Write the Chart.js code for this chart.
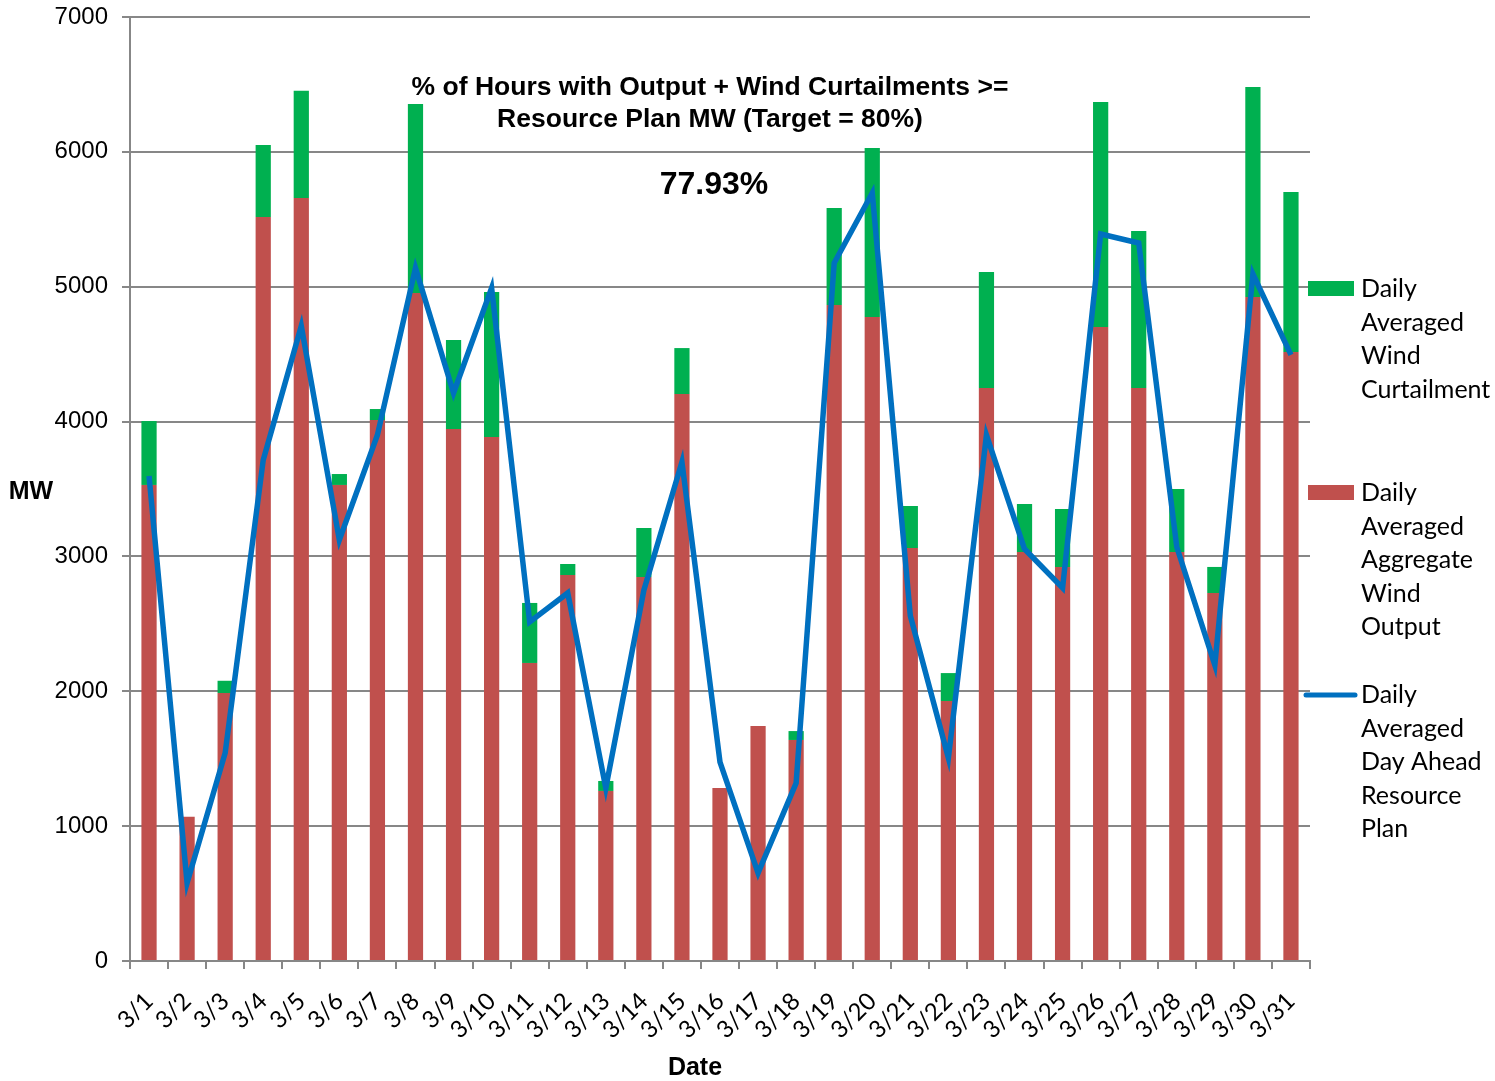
<!DOCTYPE html>
<html>
<head>
<meta charset="utf-8">
<script src="https://cdn.jsdelivr.net/npm/chart.js@4.4.1/dist/chart.umd.min.js"></script>
<style>
  html, body { margin: 0; padding: 0; background: #fff; }
  #wrap { width: 1495px; height: 1081px; position: relative; }
</style>
</head>
<body>
<div id="wrap"><canvas id="myChart" width="1495" height="1081"></canvas></div>
<script>
const dates = ['3/1','3/2','3/3','3/4','3/5','3/6','3/7','3/8','3/9','3/10',
  '3/11','3/12','3/13','3/14','3/15','3/16','3/17','3/18','3/19','3/20',
  '3/21','3/22','3/23','3/24','3/25','3/26','3/27','3/28','3/29','3/30','3/31'];

// daily averaged aggregate wind output (red)
const windOutput = [3530, 1070, 1987, 5517, 5658, 3530, 4011, 4953, 3945, 3885,
  2210, 2862, 1261, 2847, 4204, 1283, 1742, 1639, 4864, 4775,
  3062, 1928, 4249, 3033, 2922, 4701, 4249, 3033, 2729, 4924, 4516];

// daily averaged wind curtailment (green, stacked on top)
const curtailment = [474, 0, 91, 534, 795, 81, 82, 1402, 660, 1075,
  445, 82, 74, 364, 341, 0, 0, 66, 720, 1253,
  312, 207, 860, 356, 430, 1669, 1164, 467, 193, 1557, 1186];

// daily averaged day ahead resource plan (blue line)
const resourcePlan = [3597, 578, 1542, 3715, 4709, 3122, 3900, 5139, 4212, 4990,
  2514, 2729, 1283, 2750, 3700, 1475, 652, 1320, 5176, 5695,
  2560, 1505, 3900, 3055, 2766, 5391, 5324, 3070, 2195, 5094, 4494];

const titleLines = ['% of Hours with Output + Wind Curtailments >=', 'Resource Plan MW (Target = 80%)'];
const pctText = '77.93%';

const GREEN = '#00B050';
const RED = '#C0504D';
const BLUE = '#0070C0';
const GRID = '#878787';

const legendItems = [
  { color: GREEN, kind: 'box', lines: ['Daily', 'Averaged', 'Wind', 'Curtailment'], y: 289 },
  { color: RED, kind: 'box', lines: ['Daily', 'Averaged', 'Aggregate', 'Wind', 'Output'], y: 493 },
  { color: BLUE, kind: 'line', lines: ['Daily', 'Averaged', 'Day Ahead', 'Resource', 'Plan'], y: 695 }
];

// texts drawn on the canvas (title, big percent, axis titles, legend)
const textPlugin = {
  id: 'texts',
  afterDraw(chart) {
    const c = chart.ctx;
    c.save();
    c.fillStyle = '#000';
    c.textBaseline = 'middle';
    c.textAlign = 'center';
    c.font = 'bold 26.5px "Liberation Sans", Arial, sans-serif';
    c.fillText(titleLines[0], 710, 88);
    c.fillText(titleLines[1], 710, 120);
    c.font = 'bold 32px "Liberation Sans", Arial, sans-serif';
    c.fillText(pctText, 714, 185);

    c.font = 'bold 25px "Liberation Sans", Arial, sans-serif';
    c.fillText('MW', 31, 492);
    c.fillText('Date', 695, 1068);

    // legend
    c.textAlign = 'left';
    c.font = '25px Lato, "Open Sans", sans-serif';
    legendItems.forEach(it => {
      if (it.kind === 'box') {
        c.fillStyle = it.color;
        c.fillRect(1308, it.y - 8, 46, 15);
      } else {
        c.strokeStyle = it.color;
        c.lineWidth = 5;
        c.lineCap = 'round';
        c.beginPath();
        c.moveTo(1306, it.y);
        c.lineTo(1355, it.y);
        c.stroke();
      }
      c.fillStyle = '#000';
      it.lines.forEach((t, i) => c.fillText(t, 1361, it.y + i * 33.6));
    });
    c.restore();
  }
};

const ctxt = document.getElementById('myChart').getContext('2d');
const myChart = new Chart(ctxt, {
  data: {
    labels: dates,
    datasets: [
      {
        type: 'bar',
        label: 'Daily Averaged Aggregate Wind Output',
        data: windOutput,
        backgroundColor: RED,
        stack: 'wind',
        order: 1,
        barPercentage: 0.4,
        categoryPercentage: 1.0
      },
      {
        type: 'bar',
        label: 'Daily Averaged Wind Curtailment',
        data: curtailment,
        backgroundColor: GREEN,
        stack: 'wind',
        order: 1,
        barPercentage: 0.4,
        categoryPercentage: 1.0
      },
      {
        type: 'line',
        label: 'Daily Averaged Day Ahead Resource Plan',
        data: resourcePlan,
        borderColor: BLUE,
        backgroundColor: BLUE,
        borderWidth: 5.5,
        pointRadius: 0,
        tension: 0,
        stack: 'plan',
        order: 0
      }
    ]
  },
  options: {
    responsive: false,
    animation: false,
    layout: { padding: { top: 17, right: 185, left: 0, bottom: 0 } },
    plugins: {
      legend: { display: false },
      tooltip: { enabled: false }
    },
    scales: {
      x: {
        stacked: true,
        offset: true,
        grid: { display: true, drawOnChartArea: false, offset: true, color: GRID, lineWidth: 2, tickLength: 8 },
        border: { color: GRID, width: 2 },
        ticks: {
          autoSkip: false,
          maxRotation: 45,
          minRotation: 45,
          padding: 18,
          color: '#000',
          font: { family: 'Lato, "Open Sans", sans-serif', size: 24 }
        },
        afterFit: (scale) => { scale.height = 120; scale.paddingLeft = 0; scale.paddingRight = 0; }
      },
      y: {
        stacked: true,
        min: 0,
        max: 7000,
        ticks: {
          stepSize: 1000,
          padding: 14,
          color: '#000',
          font: { family: '"Liberation Sans", Arial, sans-serif', size: 24 },
          callback: (v) => String(v)
        },
        grid: { color: GRID, lineWidth: 2, tickLength: 8 },
        border: { color: GRID, width: 2 },
        afterFit: (scale) => { scale.width = 130; scale.paddingTop = 0; scale.paddingBottom = 0; }
      }
    }
  },
  plugins: [textPlugin]
});
</script>
</body>
</html>
